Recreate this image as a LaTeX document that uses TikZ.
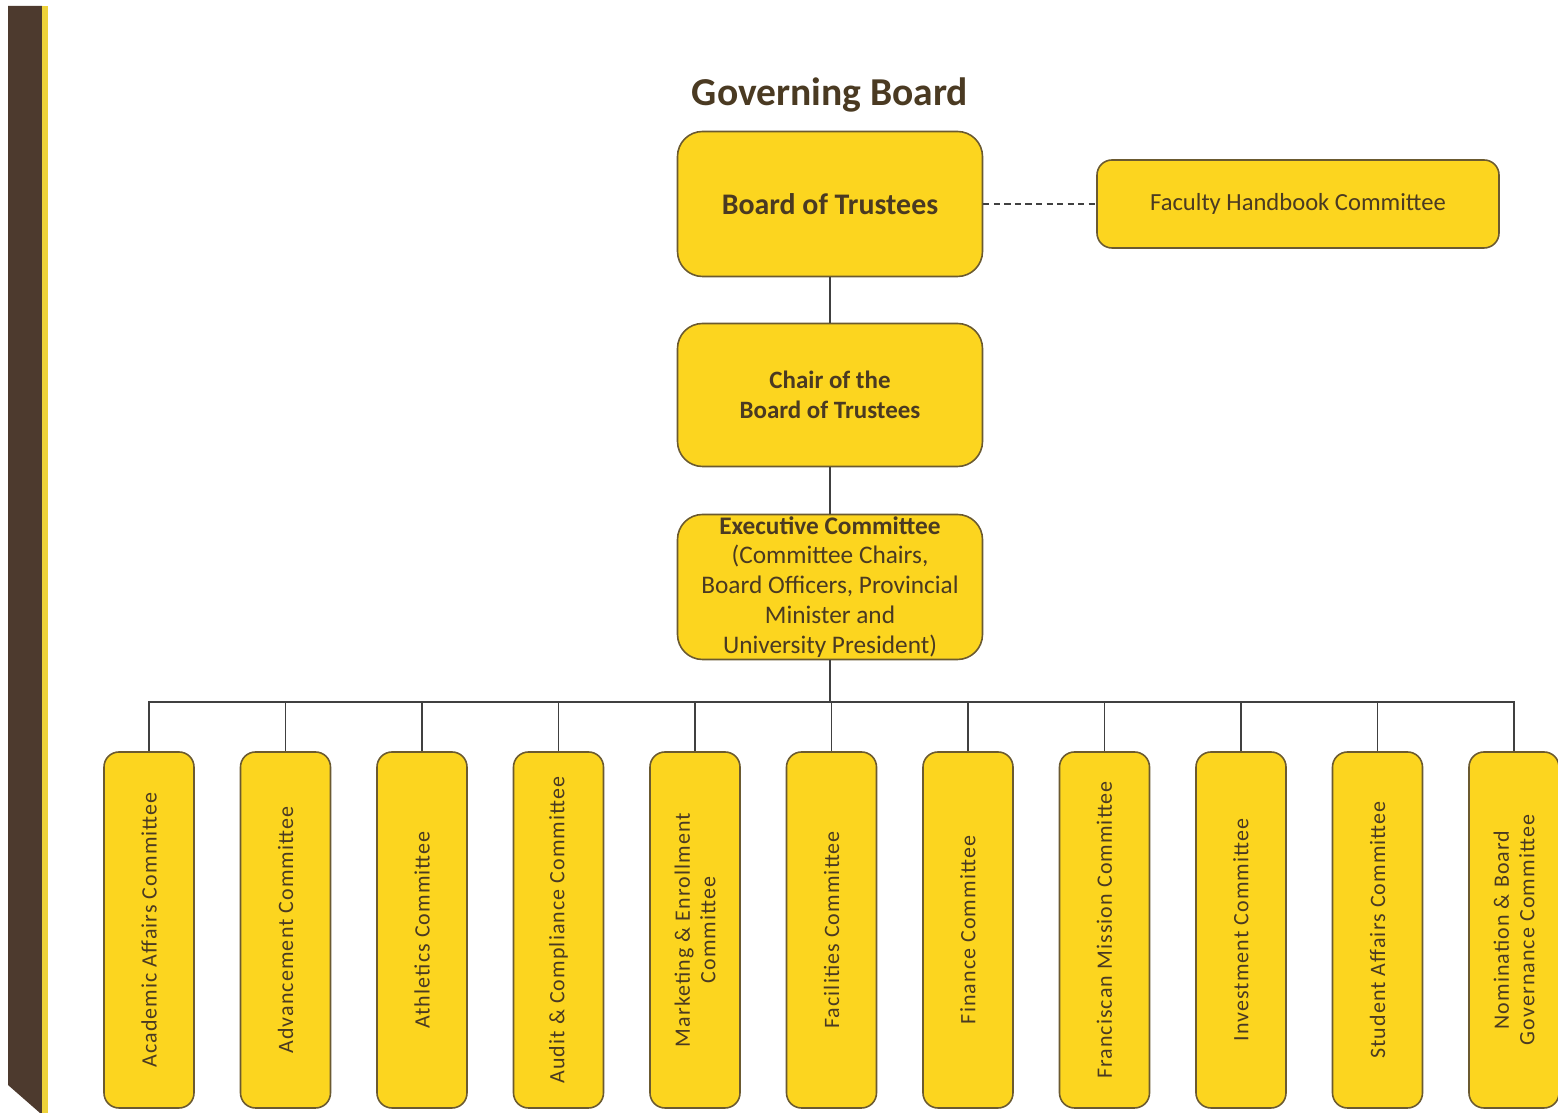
\documentclass[tikz,border=0pt]{standalone}
\usepackage{fontspec}
\setmainfont{Carlito}

\definecolor{boardyellow}{HTML}{FCD51F}
\definecolor{boardline}{HTML}{6B5A30}
\definecolor{boardtext}{HTML}{4A3A22}
\definecolor{barbrown}{HTML}{4D3A2E}
\definecolor{barstripe}{HTML}{EED23A}

\begin{document}
\begin{tikzpicture}[
    boardbox/.style={draw=boardline, line width=0.9pt, fill=boardyellow, rounded corners=0.5cm,
        text=boardtext, align=center, minimum width=6.1cm, minimum height=2.9cm, inner sep=2pt},
    sidebox/.style={boardbox, rounded corners=0.3cm, minimum width=8.04cm, minimum height=1.76cm},
    committee/.style={draw=boardline, line width=0.9pt, fill=boardyellow, rounded corners=0.3cm,
        text=boardtext, align=center, rotate=90, minimum width=7.12cm, minimum height=1.8cm,
        inner sep=1pt, font=\fontsize{12.5}{14.5}\selectfont\addfontfeature{LetterSpace=5}},
    link/.style={draw=black!75, line width=0.8pt}
]
    % Page and the bar on the left
    \useasboundingbox (0,0) rectangle (31.16,22.26);
    \fill[white] (0,0) rectangle (31.16,22.26);
    \fill[barbrown] (0.16,22.14) -- (0.84,22.14) -- (0.84,0) -- (0.8,0) -- (0.16,0.56) -- cycle;
    \fill[barstripe] (0.84,22.14) rectangle (0.96,0);

    % Title
    \node[text=boardtext, font=\fontsize{22.5}{26}\selectfont\bfseries] (title) at (16.6,20.36) {Governing Board};

    % Board, chair and executive committee
    \node[boardbox, font=\fontsize{17}{20}\selectfont\bfseries] (trustees) at (16.6,18.18) {Board of Trustees};
    \node[sidebox, font=\fontsize{14}{17}\selectfont] (handbook) at (25.96,18.18) {Faculty Handbook Committee};
    \node[boardbox, minimum height=2.86cm, font=\fontsize{14.2}{17}\selectfont\bfseries] (chair) at (16.6,14.36)
        {Chair of the\\Board of Trustees};
    \node[boardbox, inner sep=0pt, font=\fontsize{14.4}{17}\selectfont] (executive) at (16.6,10.52)
        {\textbf{Executive Committee}\\(Committee Chairs,\\Board Officers, Provincial\\Minister and\\University President)};

    \draw[link] (trustees) -- (chair);
    \draw[link] (chair) -- (executive);
    \draw[link, dash pattern=on 3.5pt off 2.5pt] (trustees) -- (handbook);

    % Standing committees
    \coordinate (bus) at (16.6,8.22);
    \draw[link] (executive) -- (bus);
    \foreach \name [count=\i] in {Academic Affairs Committee, Advancement Committee, Athletics Committee,
        Audit \& Compliance Committee, {Marketing \& Enrollment\\Committee}, Facilities Committee,
        Finance Committee, Franciscan Mission Committee, Investment Committee,
        Student Affairs Committee, {Nomination \& Board\\Governance Committee}} {
        \node[committee] (c\i) at ({2.98+2.73*(\i-1)},3.66) {\name};
    }
    \draw[link] (c1.east) |- (bus) -| (c11.east);
    \foreach \i in {2,...,10} {
        \draw[link] (c\i.east) -- (c\i.east |- bus);
    }
\end{tikzpicture}
\end{document}
